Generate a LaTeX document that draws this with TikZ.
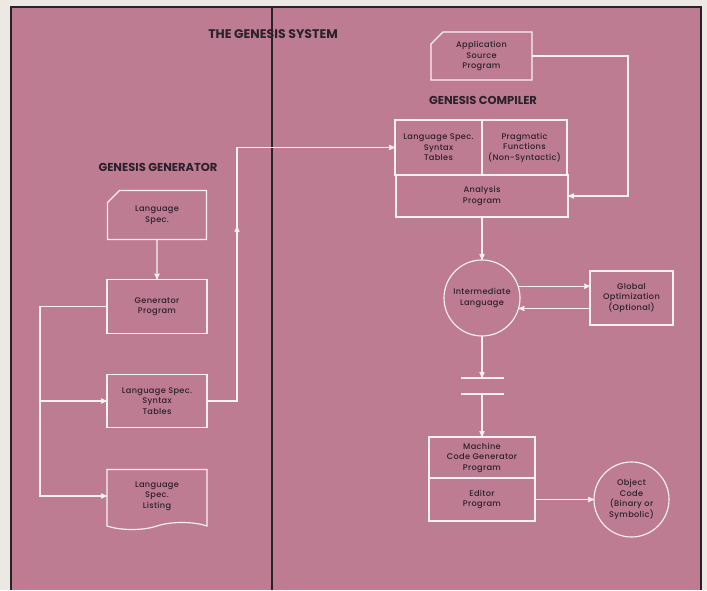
\documentclass[tikz,border=0pt]{standalone}
\usepackage{fontspec}
\setsansfont{Poppins}
\newfontfamily\boxfont[LetterSpace=4]{Poppins Medium}
\usepackage{xcolor}
\usepackage{tikz}
\usetikzlibrary{arrows}
\usetikzlibrary{positioning}
\usetikzlibrary{shapes.misc,shapes.symbols}

\definecolor{paper}{RGB}{236,233,228}
\definecolor{rose}{RGB}{190,124,146}
\definecolor{ink}{RGB}{42,33,41}
\definecolor{chalk}{RGB}{246,241,241}

\begin{document}
\begin{tikzpicture}[x=1pt,y=1pt,->,>=stealth',auto,node distance=40pt,
  line width=1.15pt,color=chalk,
  main node/.style={rectangle,draw=chalk,outer sep=0pt,inner sep=2pt,align=center,
    text=ink,font=\boxfont\fontsize{8.2}{10.5}\selectfont},
  card node/.style={main node,chamfered rectangle,chamfered rectangle corners=north west,
    chamfered rectangle xsep=6pt,chamfered rectangle ysep=6pt},
  list node/.style={main node,tape,tape bend top=none,tape bend height=7pt},
  circle node/.style={main node,circle},
  head node/.style={text=ink,font=\sffamily\bfseries\fontsize{11.5}{13}\selectfont}]

  % page and panel
  \fill[paper] (0,0) rectangle (707,590);
  \fill[rose] (10,0) rectangle (702,584);
  \node[head node,font=\sffamily\bfseries\fontsize{12.5}{14}\selectfont] (0) at (273,556) {THE GENESIS SYSTEM};
  \draw[-,ink,line width=1.8pt] (11,0) -- (11,583) -- (701,583) -- (701,0);
  \draw[-,ink,line width=1.8pt] (272,0) -- (272,583);

  % generator side
  \node[head node] (h1) at (158,423) {GENESIS GENERATOR};
  \node[card node,minimum width=99pt,minimum height=49pt] (1) at (157,375) {Language\\Spec.};
  \node[main node,minimum width=100pt,minimum height=54pt] (2) [below=40pt of 1] {Generator\\Program};
  \node[main node,minimum width=100pt,minimum height=53pt] (3) [below=41pt of 2] {Language Spec.\\Syntax\\Tables};
  \node[list node,minimum width=100pt,minimum height=60pt] (4) [below=42pt of 3] {Language\\Spec.\\Listing};

  % compiler side
  \node[head node] (h2) at (483,490) {GENESIS COMPILER};
  \node[card node,minimum width=101pt,minimum height=48pt] (5) at (481.5,534) {Application\\Source\\Program};
  \node[main node,minimum width=87pt,minimum height=55pt] (6) at (438.5,442.5) {Language Spec.\\Syntax\\Tables};
  \node[main node,minimum width=85pt,minimum height=55pt] (7) [right=0pt of 6] {Pragmatic\\Functions\\(Non-Syntactic)};
  \node[main node,minimum width=172pt,minimum height=42pt] (8) [below=0pt of 6.south east] {Analysis\\Program};
  \node[circle node,minimum size=76pt] (9) [below=43pt of 8] {Intermediate\\Language};
  \node[main node,minimum width=83pt,minimum height=54pt] (10) [right=70pt of 9] {Global\\Optimization\\(Optional)};
  \coordinate[below=42pt of 9] (14);
  \coordinate[below=16pt of 14] (15);
  \node[main node,minimum width=106pt,minimum height=41pt] (11) [below=43pt of 15] {Machine\\Code Generator\\Program};
  \node[main node,minimum width=106pt,minimum height=43pt] (12) [below=0pt of 11] {Editor\\Program};
  \node[circle node,minimum size=75pt] (13) [right=59pt of 12] {Object\\Code\\(Binary or\\Symbolic)};

  \path
    (1) edge (2)
    (8) edge (9)
    (12) edge (13);

  \draw (2.west) -- ++(-67pt,0) coordinate (16) |- (4);
  \draw (16) |- (3);
  \draw (3.east) -- ++(30pt,0) coordinate (17) |- (6);
  \draw (17) -- ++(0,175pt);
  \draw (5.east) -- ++(96pt,0) |- (8);
  \draw (9.18) -- (9.18 -| 10.west);
  \draw (10.west |- 9.-16) -- (9.-16);
  \draw (9) -- (14);
  \draw[-] ([xshift=-21.5pt]14) -- ([xshift=21.5pt]14);
  \draw[-] ([xshift=-21.5pt]15) -- ([xshift=21.5pt]15);
  \draw (15) -- (11);
\end{tikzpicture}
\end{document}
